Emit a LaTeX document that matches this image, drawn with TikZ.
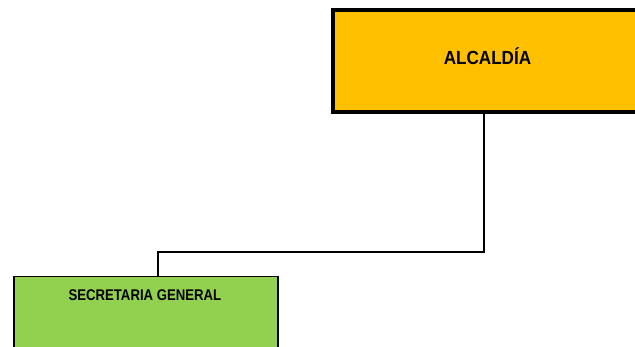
\documentclass[tikz,border=0pt]{standalone}
\usepackage{fontspec}
\setmainfont{Liberation Sans}
\newfontfamily\alcfont[FakeStretch=0.9]{Liberation Sans}
\newfontfamily\secfont[FakeStretch=0.85]{Liberation Sans}
\definecolor{alcorange}{HTML}{FFC000}
\definecolor{secgreen}{HTML}{92D050}
\begin{document}
\begin{tikzpicture}[x=1pt,y=1pt,
  alcbox/.style={draw=black, line width=4pt, fill=alcorange, rectangle, minimum width=309pt, minimum height=102.5pt, inner sep=0pt},
  alctext/.style={anchor=base, inner sep=0pt, font=\alcfont\bfseries\fontsize{19}{21}\selectfont},
  secbox/.style={draw=black, line width=1.8pt, fill=secgreen, rectangle, minimum width=264pt, minimum height=100pt, inner sep=0pt},
  sectext/.style={anchor=base, inner sep=0pt, font=\secfont\bfseries\fontsize{15.5}{17}\selectfont},
  conn/.style={draw=black, line width=1.6pt}]
\useasboundingbox (0,0) rectangle (635,346);
\clip (0,0) rectangle (635,346);
\node[alcbox] (a) at (487.5,284.75) {};
\node[alctext] (at) at ([yshift=-3.75pt]a.center) {ALCALDÍA};
\node[secbox, anchor=north west] (s) at (13,70.5) {};
\node[sectext] (st) at ([xshift=-1pt,yshift=-25pt]s.north) {SECRETARIA GENERAL};
\draw[conn] ([xshift=-3.5pt]a.south) -- ++(0,-137.5) coordinate (m) -| ([xshift=12pt]s.north);
\end{tikzpicture}
\end{document}
